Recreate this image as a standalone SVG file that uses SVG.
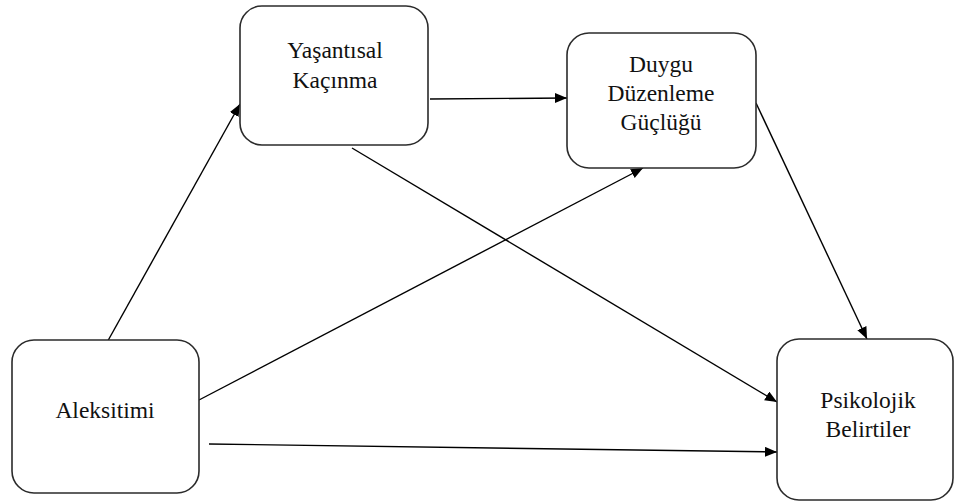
<svg xmlns="http://www.w3.org/2000/svg" width="955" height="504" viewBox="0 0 955 504">
  <style>
    .box { fill: #ffffff; stroke: #2b2b2b; stroke-width: 1.6; }
    .lbl { font-family: 'Liberation Serif', 'Times New Roman', serif; font-size: 23.5px; fill: #111; text-anchor: middle; }
    .edge { stroke: #000; stroke-width: 1.4; fill: none; marker-end: url(#arrow); }
  </style>
  <defs>
    <marker id="arrow" markerUnits="userSpaceOnUse" markerWidth="13" markerHeight="11" refX="12" refY="5" orient="auto">
      <path d="M0,0 L12,5 L0,10 Z" fill="#000"/>
    </marker>
  </defs>
  <rect width="955" height="504" fill="#ffffff"/>

  <!-- paths between the four constructs -->
  <g id="connectors">
    <line class="edge" x1="105" y1="346" x2="240" y2="104"/>
    <line class="edge" x1="430" y1="99" x2="567" y2="98"/>
    <line class="edge" x1="352" y1="148" x2="777" y2="402"/>
    <line class="edge" x1="199" y1="400" x2="643" y2="168"/>
    <line class="edge" x1="209" y1="444" x2="777" y2="452"/>
    <line class="edge" x1="756" y1="103" x2="867" y2="339"/>
  </g>

  <g id="yasantisal-kacinma">
    <rect class="box" x="240" y="6" width="188" height="139" rx="22"/>
    <text class="lbl" x="335" y="58">Yaşantısal</text>
    <text class="lbl" x="335" y="88">Kaçınma</text>
  </g>

  <g id="duygu-duzenleme">
    <rect class="box" x="567" y="33" width="189" height="135" rx="22"/>
    <text class="lbl" x="661" y="72">Duygu</text>
    <text class="lbl" x="661" y="101">Düzenleme</text>
    <text class="lbl" x="661" y="130">Güçlüğü</text>
  </g>

  <g id="aleksitimi">
    <rect class="box" x="12" y="340" width="187" height="153" rx="22"/>
    <text class="lbl" x="105" y="418">Aleksitimi</text>
  </g>

  <g id="psikolojik-belirtiler">
    <rect class="box" x="777" y="339" width="176" height="161" rx="22"/>
    <text class="lbl" x="868" y="408">Psikolojik</text>
    <text class="lbl" x="868" y="437">Belirtiler</text>
  </g>
</svg>
